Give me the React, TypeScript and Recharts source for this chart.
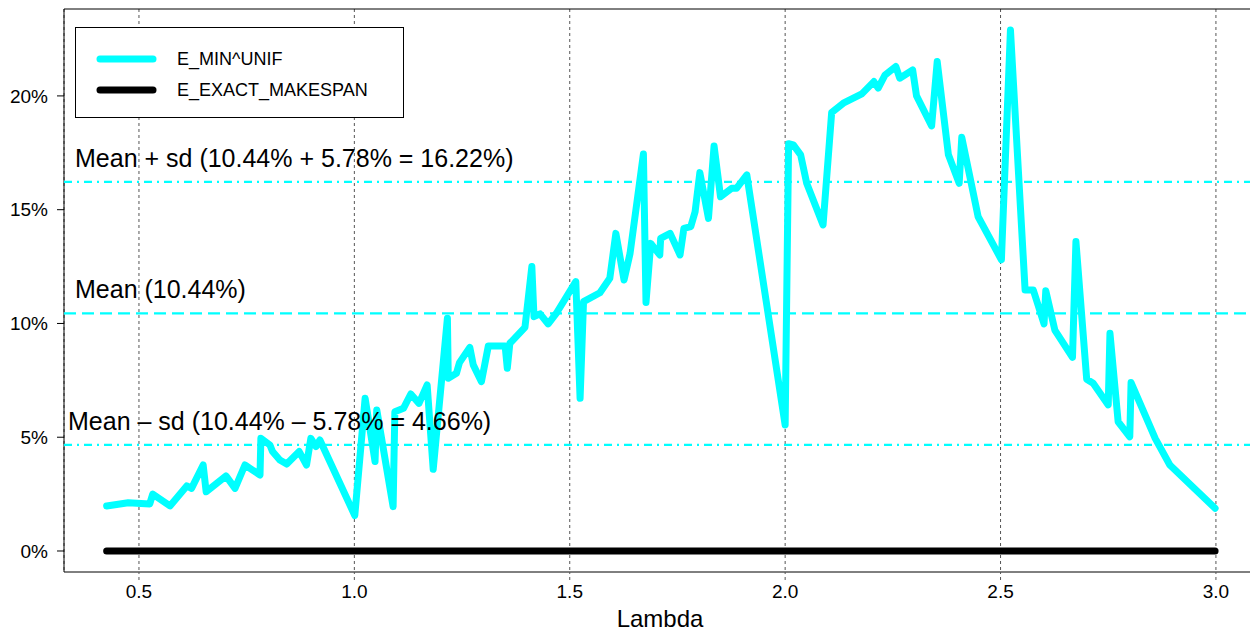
import * as React from 'react';
import {
	LineChart,
	Line,
	XAxis,
	YAxis,
	CartesianGrid,
	ReferenceLine,
	ReferenceArea,
} from 'recharts';

// lambda values of the measured runs
const lambdas = [
	0.425, 0.475, 0.525, 0.532, 0.572, 0.611, 0.622, 0.649, 0.656, 0.702,
	0.723, 0.746, 0.781, 0.783, 0.804, 0.81, 0.827, 0.843, 0.872, 0.889,
	0.899, 0.911, 0.92, 1.001, 1.025, 1.048, 1.052, 1.09, 1.094, 1.114,
	1.131, 1.15, 1.169, 1.183, 1.216, 1.218, 1.237, 1.244, 1.268, 1.276,
	1.295, 1.311, 1.35, 1.355, 1.361, 1.396, 1.412, 1.417, 1.431, 1.45,
	1.47, 1.514, 1.524, 1.532, 1.57, 1.593, 1.607, 1.626, 1.64, 1.671,
	1.677, 1.688, 1.709, 1.711, 1.733, 1.756, 1.765, 1.781, 1.791, 1.802,
	1.822, 1.835, 1.85, 1.876, 1.887, 1.911, 2.0, 2.008, 2.019, 2.036,
	2.05, 2.088, 2.108, 2.135, 2.178, 2.206, 2.216, 2.232, 2.257, 2.266,
	2.296, 2.305, 2.34, 2.353, 2.379, 2.404, 2.41, 2.448, 2.502, 2.523,
	2.557, 2.576, 2.601, 2.605, 2.626, 2.667, 2.675, 2.7, 2.715, 2.75,
	2.754, 2.773, 2.8, 2.803, 2.859, 2.893, 2.998,
];

// E_MIN^UNIF, percent
const minUnif = [
	1.98, 2.12, 2.07, 2.5, 1.98, 2.86, 2.75, 3.78, 2.6, 3.3,
	2.75, 3.78, 3.34, 4.95, 4.66, 4.37, 4.0, 3.82, 4.37, 3.78,
	4.95, 4.59, 4.88, 1.56, 6.71, 3.93, 6.2, 1.95, 6.12, 6.27,
	6.9, 6.49, 7.3, 3.59, 10.23, 7.59, 7.81, 8.28, 8.95, 8.18,
	7.44, 9.01, 9.01, 8.03, 9.13, 9.83, 12.5, 10.3, 10.42, 9.98,
	10.48, 11.84, 6.71, 10.96, 11.35, 11.99, 13.96, 11.91, 13.08, 17.45,
	10.92, 13.52, 13.01, 13.74, 13.96, 13.01, 14.18, 14.26, 14.91, 16.63,
	14.62, 17.8, 15.57, 15.94, 15.94, 16.53, 5.54, 17.9, 17.85, 17.41,
	16.16, 14.33, 19.27, 19.68, 20.09, 20.63, 20.34, 20.92, 21.29, 20.78,
	21.14, 20.0, 18.68, 21.51, 17.41, 16.16, 18.18, 14.69, 12.8, 22.9,
	11.47, 11.47, 9.98, 11.44, 9.71, 8.51, 13.6, 7.55, 7.37, 6.42,
	9.57, 5.68, 5.02, 7.4, 4.95, 3.78, 1.88,
];

// E_EXACT_MAKESPAN is 0 over the whole lambda range
const exactLambdas = [0.425, 2.998];
const exactMakespan = [0, 0];

const xTicks = [0.5, 1.0, 1.5, 2.0, 2.5, 3.0];
const yTicks = [0, 5, 10, 15, 20];

const refLabels = [
	{ y: 16.22, text: 'Mean + sd (10.44% + 5.78% = 16.22%)', dx: 11, dash: '8 5 2 5' },
	{ y: 10.44, text: 'Mean (10.44%)', dx: 11, dash: '12 6' },
	{ y: 4.66, text: 'Mean \u2013 sd (10.44% \u2013 5.78% = 4.66%)', dx: 4, dash: '8 5 2 5' },
];

const unifData = lambdas.map((l, i) => ({ lambda: l, value: minUnif[i] }));
const exactData = exactLambdas.map((l, i) => ({ lambda: l, value: exactMakespan[i] }));

const X_DOMAIN: [number, number] = [0.326, 3.093];
const Y_DOMAIN: [number, number] = [-0.923, 23.82];
const CYAN = '#00ffff';
const FONT = '"Liberation Sans", Arial, Helvetica, sans-serif';

function Legend() {
	return (
		<div style={{ position: 'absolute', left: 67, top: 19, background: '#fff' }}>
			<svg width={329} height={91} style={{ display: 'block' }}>
				<rect x={0.5} y={0.5} width={328} height={90} fill="#fff" stroke="#000" />
				<line x1={25} x2={78} y1={32} y2={32} stroke={CYAN} strokeWidth={7} strokeLinecap="round" />
				<line x1={25} x2={78} y1={63} y2={63} stroke="#000" strokeWidth={7} strokeLinecap="round" />
				<text x={102} y={32} dy="0.35em" fontSize={18} fontFamily={FONT}>E_MIN^UNIF</text>
				<text x={102} y={63} dy="0.35em" fontSize={18} fontFamily={FONT}>E_EXACT_MAKESPAN</text>
			</svg>
		</div>
	);
}

export default function App() {
	return (
		<div style={{ position: 'relative', width: 1250, height: 624, fontFamily: FONT }}>
			<LineChart width={1250} height={624} margin={{ top: 1, right: 2, bottom: 0, left: 0 }}>
				<CartesianGrid horizontal={false} stroke="#555" strokeDasharray="3 3" />
				<XAxis
					dataKey="lambda"
					type="number"
					domain={X_DOMAIN}
					ticks={xTicks}
					allowDataOverflow
					height={60}
					axisLine={false}
					tickLine={{ stroke: '#555', strokeDasharray: '3 3' }}
					tickSize={8}
					tickMargin={5}
					tick={{ fontSize: 19, fill: '#000', fontFamily: FONT }}
					tickFormatter={(v: number) => v.toFixed(1)}
					label={(p: any) => {
						const vb = p.viewBox || {};
						return (
							<text x={vb.x + vb.width / 2} y={vb.y + 55} textAnchor="middle" fontSize={24} fontFamily={FONT} fill="#000">
								Lambda
							</text>
						);
					}}
				/>
				<YAxis
					type="number"
					domain={Y_DOMAIN}
					ticks={yTicks}
					allowDataOverflow
					width={56}
					axisLine={false}
					tickLine={{ stroke: '#000' }}
					tickSize={7}
					tickMargin={9}
					tick={{ fontSize: 19, fill: '#000', fontFamily: FONT }}
					tickFormatter={(v: number) => `${v}%`}
				/>
				<ReferenceArea
					x1={X_DOMAIN[0]}
					x2={X_DOMAIN[1]}
					y1={Y_DOMAIN[0]}
					y2={Y_DOMAIN[1]}
					fill="none"
					fillOpacity={0}
					stroke="#000"
					strokeWidth={1}
				/>
				{refLabels.map(r => (
					<ReferenceLine
						key={'line' + r.y}
						y={r.y}
						stroke={CYAN}
						strokeWidth={2.2}
						strokeDasharray={r.dash}
					/>
				))}
				<Line
					data={exactData}
					dataKey="value"
					stroke="#000"
					strokeWidth={7}
					strokeLinecap="round"
					dot={false}
					activeDot={false}
					isAnimationActive={false}
				/>
				<Line
					data={unifData}
					dataKey="value"
					stroke={CYAN}
					strokeWidth={7}
					strokeLinecap="round"
					strokeLinejoin="round"
					dot={false}
					activeDot={false}
					isAnimationActive={false}
				/>
				{refLabels.map(r => (
					<ReferenceLine
						key={'label' + r.y}
						y={r.y}
						stroke="none"
						label={(p: any) => {
							const vb = p.viewBox || {};
							return (
								<text x={vb.x + r.dx} y={vb.y - 15} fontSize={25} fontFamily={FONT} fill="#000">
									{r.text}
								</text>
							);
						}}
					/>
				))}
			</LineChart>
			<Legend />
		</div>
	);
}
